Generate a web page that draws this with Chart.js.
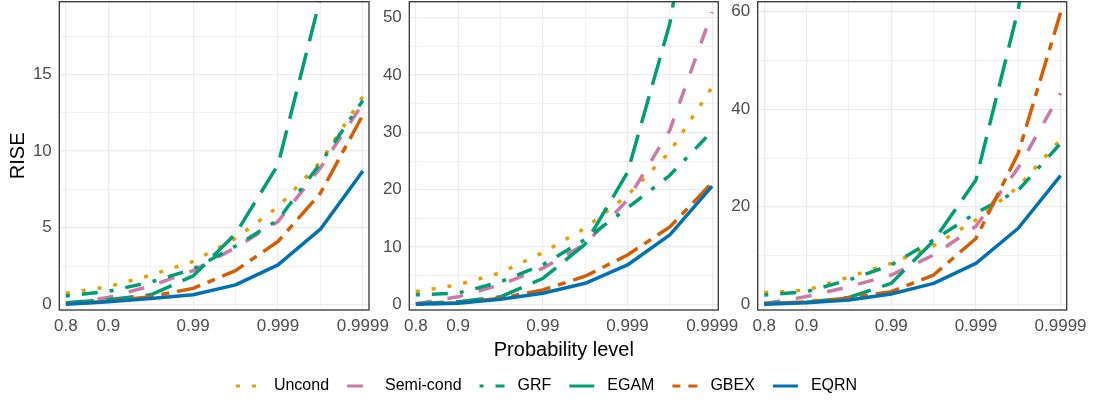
<!DOCTYPE html>
<html><head><meta charset="utf-8">
<script src="https://cdn.jsdelivr.net/npm/chart.js@4.4.1/dist/chart.umd.min.js"></script>
<style>
html,body{margin:0;padding:0;background:#fff;}
#wrap{position:relative;width:1093px;height:402px;overflow:hidden;background:#fff;}
canvas{position:absolute;}
</style></head><body>
<div id="wrap">
<canvas id="p1" width="400" height="365" style="left:0px;top:0px"></canvas>
<canvas id="p2" width="378" height="365" style="left:372px;top:0px"></canvas>
<canvas id="p3" width="373" height="365" style="left:720px;top:0px"></canvas>
<canvas id="lg" width="1093" height="37" style="left:0px;top:365px"></canvas>
</div>
<script>
// ---- data ----
const probLevels = ['0.8','0.9','0.95','0.99','0.995','0.999','0.9995','0.9999'];
const xTickLabels = ['0.8','0.9','','0.99','','0.999','','0.9999'];
const seriesNames = ['Uncond','Semi-cond','GRF','EGAM','GBEX','EQRN'];

const uncond1 = [0.72, 1.15, 1.9, 2.8, 4.3, 6.35, 9.3, 13.55];
const semi1   = [0.05, 0.45, 1.2, 2.2, 3.7, 5.4, 8.9, 13.1];
const grf1    = [0.55, 0.85, 1.45, 2.3, 3.8, 5.5, 9.2, 13.3];
const egam1   = [0.1, 0.3, 0.62, 1.85, 4.6, 9.1, 20, 37];
const gbex1   = [0.03, 0.2, 0.5, 1.04, 2.2, 4.1, 7.25, 12.35];
const eqrn1   = [0.0, 0.17, 0.38, 0.62, 1.27, 2.57, 4.9, 8.7];

const uncond2 = [2.2, 3.4, 5.5, 9.0, 13.3, 19.0, 26.6, 37.9];
const semi2   = [0.1, 1.3, 3.4, 6.3, 10.5, 18.2, 30.4, 51.0];
const grf2    = [1.65, 1.95, 3.9, 6.9, 11.3, 16.8, 22.5, 30.2];
const egam2   = [0.1, 0.45, 1.3, 4.5, 10.5, 23, 49, 92];
const gbex2   = [0.05, 0.25, 1.05, 2.5, 4.9, 8.6, 13.5, 21.2];
const eqrn2   = [0.0, 0.17, 0.87, 1.92, 3.66, 6.86, 12.1, 20.6];

const uncond3 = [2.4, 2.9, 5.6, 8.4, 12.0, 17.3, 24.1, 33.8];
const semi3   = [0.1, 1.6, 3.6, 6.0, 10.1, 16.0, 28, 43.3];
const grf3    = [1.9, 2.6, 5.0, 8.06, 13.2, 18.7, 23.4, 33.0];
const egam3   = [0.2, 0.4, 1.4, 4.3, 13, 25.5, 60.5, 115];
const gbex3   = [0.1, 0.5, 1.3, 2.6, 6.0, 13.5, 31.0, 59.8];
const eqrn3   = [0.0, 0.33, 0.88, 2.11, 4.3, 8.4, 15.6, 26.4];

const yTicks1 = [0, 5, 10, 15];
const yTicks2 = [0, 10, 20, 30, 40, 50];
const yTicks3 = [0, 20, 40, 60];

// ---- styles ----
const FONT = '"Liberation Sans", Arial, Helvetica, sans-serif';
const styles = [
  {color:'#E69F00', dash:[4,12]},
  {color:'#CC79A7', dash:[16,16]},
  {color:'#009E73', dash:[4,12,16,12]},
  {color:'#009E73', dash:[28,12]},
  {color:'#D55E00', dash:[8,8,24,8]},
  {color:'#0072B2', dash:[]}
];

const borderPlugin = {
  id:'panelBorder',
  afterDatasetsDraw(chart){
    const {ctx, chartArea:a} = chart;
    ctx.save();
    ctx.strokeStyle = '#333333';
    ctx.lineWidth = 1.3;
    ctx.setLineDash([]);
    ctx.strokeRect(a.left, a.top, a.right - a.left, a.bottom - a.top);
    ctx.restore();
  }
};

function makePanel(id, vals, yMin, yMax, yMajor, axisW, padR, showYTitle, showXTitle){
  const step = yMajor[1] - yMajor[0];
  const yAll = [];
  yMajor.forEach(v => { yAll.push(v); if (v + step/2 <= yMax) yAll.push(v + step/2); });
  yAll.sort((a,b)=>a-b);
  const datasets = seriesNames.map((name,k)=>({
    label: name,
    data: vals[k].map((v,i)=>({x:i, y:v})),
    borderColor: styles[k].color,
    backgroundColor: styles[k].color,
    borderWidth: 3.5,
    borderDash: styles[k].dash,
    borderCapStyle: 'butt',
    borderJoinStyle: 'round',
    pointRadius: 0,
    pointHoverRadius: 0,
    fill: false,
    tension: 0,
    order: 6 - k,
    clip: 0
  }));
  return new Chart(document.getElementById(id), {
    type:'line',
    data:{datasets},
    plugins:[borderPlugin],
    options:{
      responsive:false, animation:false, devicePixelRatio:1,
      layout:{padding:{top:1.7, right:padR, left:0, bottom:0}},
      plugins:{legend:{display:false}, tooltip:{enabled:false}},
      scales:{
        x:{
          type:'linear', min:-0.155, max:7.145,
          afterBuildTicks: s => { s.ticks = probLevels.map((p,i)=>({value:i})); },
          afterFit: s => { s.height = 55; s.paddingLeft = 0; s.paddingRight = 0; },
          grid:{ color:'#EBEBEB', lineWidth: c => (c.tick && xTickLabels[c.tick.value] === '') ? 0.7 : 1.2, drawTicks:false },
          border:{display:false},
          ticks:{ autoSkip:false, maxRotation:0, minRotation:0, padding:6, color:'#4D4D4D',
                  font:{family:FONT, size:17}, callback: v => (xTickLabels[v] !== undefined ? xTickLabels[v] : '') },
          title:{ display:showXTitle, text:'Probability level', color:'#000000', font:{family:FONT, size:20}, padding:{top:0, bottom:3} }
        },
        y:{
          type:'linear', min:yMin, max:yMax,
          afterBuildTicks: s => { s.ticks = yAll.map(v=>({value:v})); },
          afterFit: s => { s.width = axisW; s.paddingTop = 0; s.paddingBottom = 0; },
          grid:{ color:'#EBEBEB', lineWidth: c => (c.tick && yMajor.indexOf(c.tick.value) < 0) ? 0.7 : 1.2, drawTicks:false },
          border:{display:false},
          ticks:{ padding:7.5, color:'#4D4D4D', font:{family:FONT, size:17},
                  callback: v => (yMajor.indexOf(v) >= 0 ? String(v) : '') },
          title:{ display:showYTitle, text:'RISE', color:'#000000', font:{family:FONT, size:20}, padding:{top:6, bottom:0} }
        }
      }
    }
  });
}

makePanel('p1', [uncond1, semi1, grf1, egam1, gbex1, eqrn1], -0.37, 19.74, yTicks1, 59.3, 31, true, false);
makePanel('p2', [uncond2, semi2, grf2, egam2, gbex2, eqrn2], -1.0, 52.8, yTicks2, 37.3, 31.7, false, true);
makePanel('p3', [uncond3, semi3, grf3, egam3, gbex3, eqrn3], -1.17, 62.07, yTicks3, 37.7, 26.3, false, false);

// legend chart: keys drawn from the dataset styles
const legendPlugin = {
  id:'customLegend',
  afterDraw(chart){
    const ctx = chart.ctx;
    const keyW = 25, keyGap = 13, itemGap = 18, yMid = 21;
    ctx.save();
    ctx.font = '16px ' + FONT;
    const items = chart.data.datasets.map(d => ({label:d.label, color:d.borderColor, dash:d.borderDash, w:ctx.measureText(d.label).width}));
    const total = items.reduce((s,it)=>s + keyW + keyGap + it.w, 0) + itemGap * (items.length - 1);
    let x = (chart.width - total) / 2;
    items.forEach(it => {
      ctx.strokeStyle = it.color;
      ctx.lineWidth = 3;
      ctx.lineCap = 'butt';
      ctx.setLineDash(it.dash);
      ctx.beginPath();
      ctx.moveTo(x, yMid);
      ctx.lineTo(x + keyW, yMid);
      ctx.stroke();
      ctx.setLineDash([]);
      ctx.fillStyle = '#000000';
      ctx.textBaseline = 'middle';
      ctx.textAlign = 'left';
      ctx.fillText(it.label, x + keyW + keyGap, yMid);
      x += keyW + keyGap + it.w + itemGap;
    });
    ctx.restore();
  }
};
new Chart(document.getElementById('lg'), {
  type:'line',
  data:{ datasets: seriesNames.map((n,k)=>({ label:n, data:[], borderColor:styles[k].color, backgroundColor:styles[k].color,
          borderWidth:3, borderDash:styles[k].dash })) },
  plugins:[legendPlugin],
  options:{
    responsive:false, animation:false, devicePixelRatio:1,
    layout:{padding:0},
    scales:{ x:{display:false}, y:{display:false} },
    plugins:{ tooltip:{enabled:false}, legend:{display:false} }
  }
});
</script>
</body></html>
